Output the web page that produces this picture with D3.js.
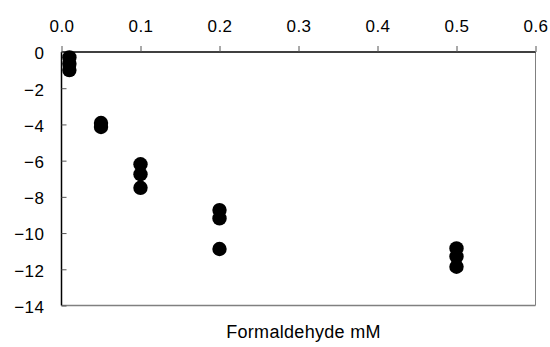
<!DOCTYPE html>
<html>
<head>
<meta charset="utf-8">
<script src="https://cdn.jsdelivr.net/npm/d3@7"></script>
<style>
  html, body { margin: 0; padding: 0; background: #fff; }
  svg { display: block; }
  text { font-family: "Liberation Sans", Arial, sans-serif; fill: #000; }
</style>
</head>
<body>
<svg id="chart" width="550" height="347"></svg>
<script>
// Formaldehyde concentration (mM) and measured response, one entry per replicate
const concentration = [0.01, 0.01, 0.01, 0.05, 0.05, 0.1, 0.1, 0.1, 0.2, 0.2, 0.2, 0.5, 0.5, 0.5];
const response = [-0.3, -0.65, -1.0, -3.92, -4.14, -6.2, -6.75, -7.5, -8.73, -9.19, -10.88, -10.85, -11.3, -11.86];
const xTicks = [0, 0.1, 0.2, 0.3, 0.4, 0.5, 0.6];
const yTicks = [0, -2, -4, -6, -8, -10, -12, -14];
const xTitle = "Formaldehyde mM";

const svg = d3.select("#chart");
const plotLeft = 61.5, plotRight = 535.5, plotTop = 52, plotBottom = 305.5;

const x = d3.scaleLinear().domain([0, 0.6]).range([plotLeft, plotRight]);
const y = d3.scaleLinear().domain([0, -14]).range([plotTop, plotBottom]);

// frame: right and bottom edges in grey
svg.append("line").attr("x1", plotRight).attr("x2", plotRight).attr("y1", plotTop).attr("y2", plotBottom)
  .attr("stroke", "#808080").attr("stroke-width", 1);
svg.append("line").attr("x1", plotLeft).attr("x2", plotRight).attr("y1", plotBottom).attr("y2", plotBottom)
  .attr("stroke", "#808080").attr("stroke-width", 1.5);

// top axis, ticks pointing outward
const xAxis = svg.append("g").attr("transform", `translate(0,${plotTop})`)
  .call(d3.axisTop(x).tickValues(xTicks).tickFormat(d3.format(".1f")).tickSize(6).tickPadding(14));
// left axis, ticks pointing inward
const yAxis = svg.append("g").attr("transform", `translate(${plotLeft},0)`)
  .call(d3.axisLeft(y).tickValues(yTicks).tickFormat(d => d3.format("d")(d).replace("-", "\u2212"))
    .tickSize(-5).tickPadding(17));

[xAxis, yAxis].forEach(g => {
  g.select(".domain").attr("stroke", "#000").attr("stroke-width", 1.5);
  g.selectAll(".tick line").attr("stroke", "#555").attr("stroke-width", 1);
  g.selectAll("text").attr("font-size", 17).attr("fill", "#000")
    .attr("letter-spacing", 0.5)
    .attr("font-family", "'Liberation Sans', Arial, sans-serif");
});
yAxis.selectAll("text").attr("dy", "0.4em");
xAxis.select(".domain").attr("d", `M${plotLeft},0H${plotRight}`);
yAxis.select(".domain").attr("d", `M0,${plotTop}V${plotBottom}`);

// data points
svg.append("g").selectAll("circle")
  .data(concentration.map((c, i) => ({ c, v: response[i] })))
  .join("circle")
  .attr("cx", d => x(d.c))
  .attr("cy", d => y(d.v))
  .attr("r", 7.2)
  .attr("fill", "#000");

// axis title
svg.append("text")
  .attr("x", (plotLeft + plotRight) / 2 + 5)
  .attr("y", 338)
  .attr("text-anchor", "middle")
  .attr("font-size", 18)
  .attr("letter-spacing", 0.3)
  .text(xTitle);
</script>
</body>
</html>
